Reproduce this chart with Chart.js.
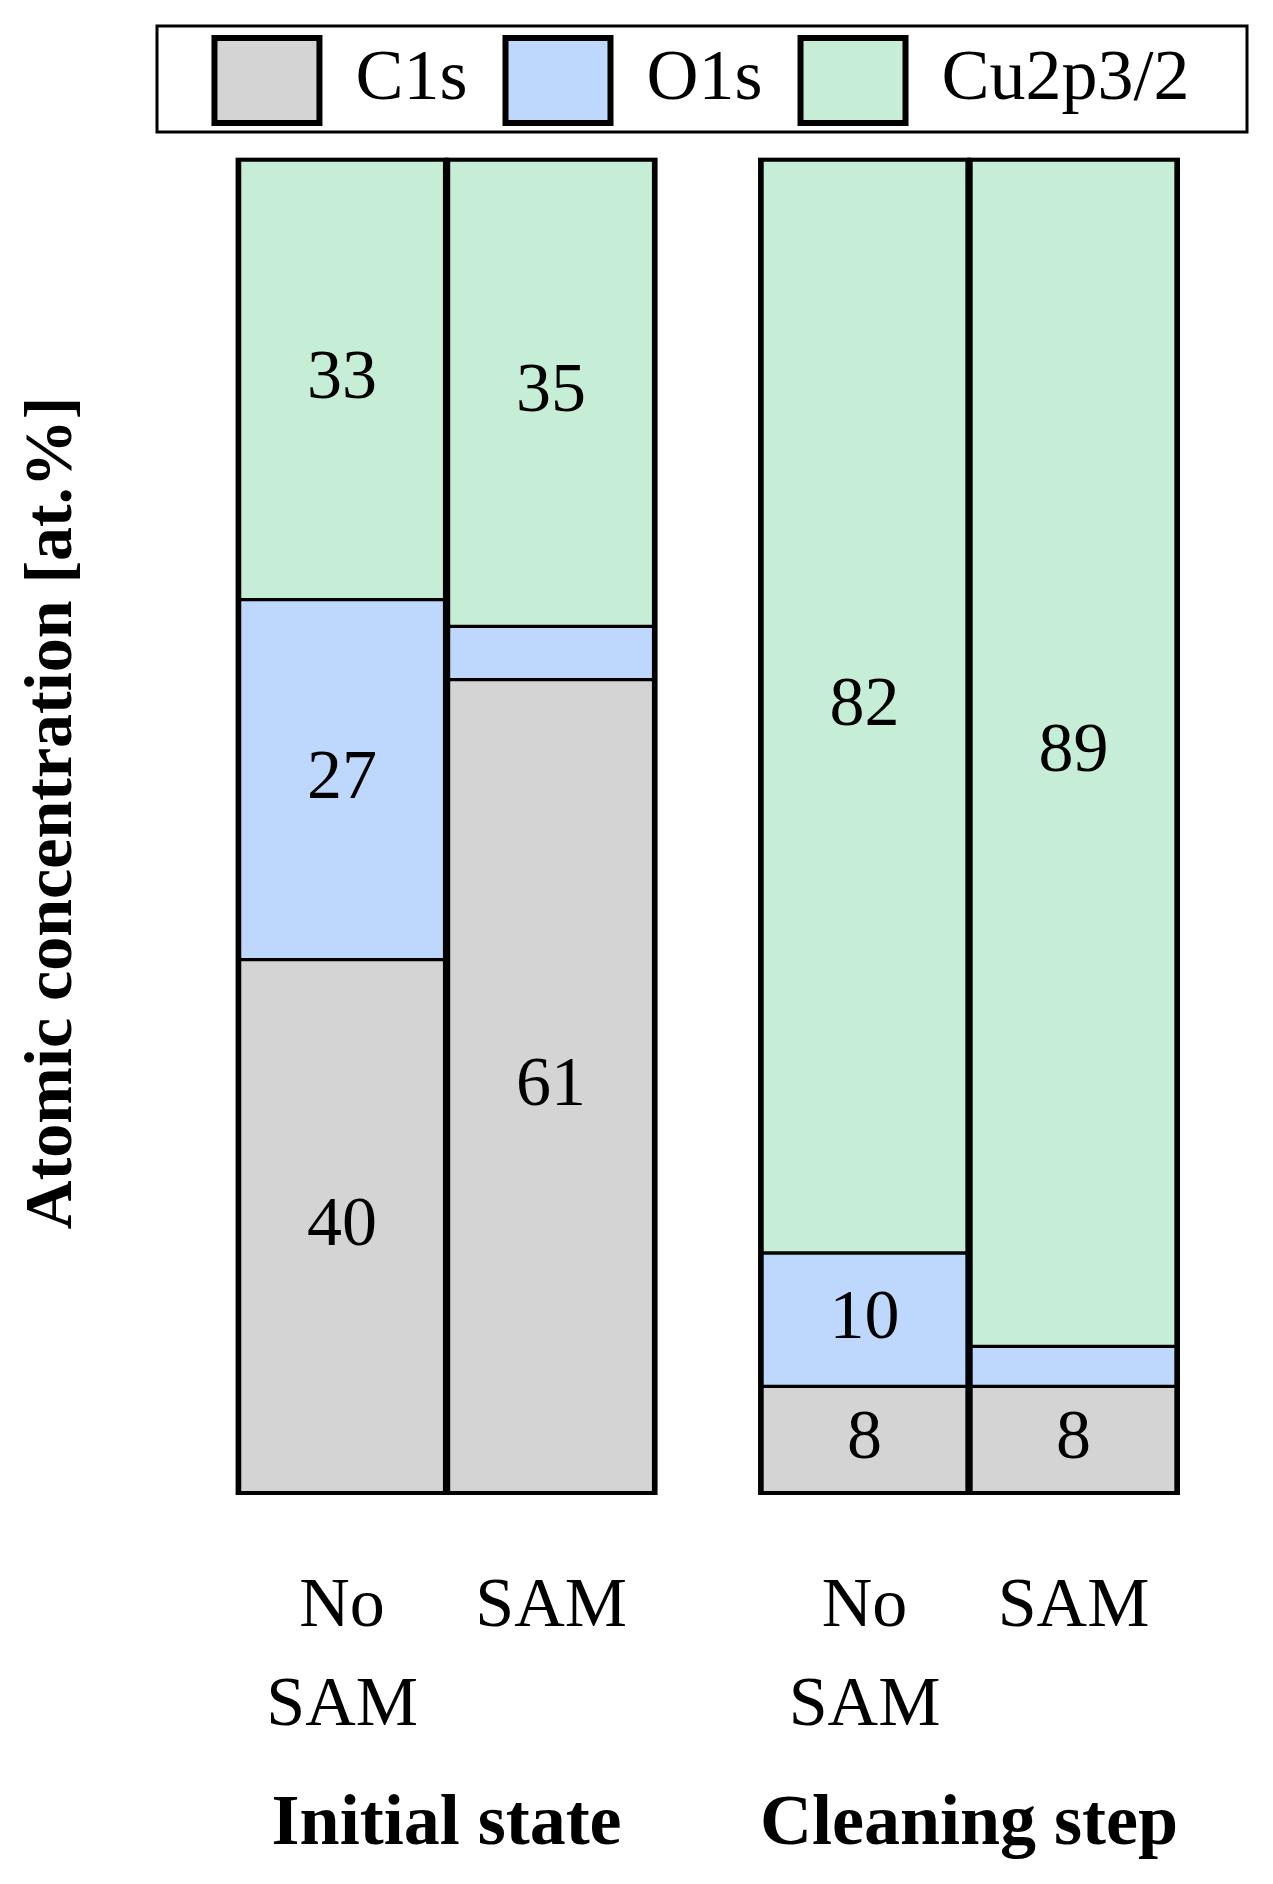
<!DOCTYPE html>
<html lang="en">
<head>
<meta charset="UTF-8">
<title>Atomic concentration</title>
<script src="https://cdn.jsdelivr.net/npm/chart.js@4.4.1/dist/chart.umd.min.js"></script>
<style>
    html, body { margin: 0; padding: 0; background: #fff; }
    #chart { display: block; }
</style>
</head>
<body>
<canvas id="chart" width="1273" height="1884"></canvas>
<script>
// Группы образцов и подписи под столбцами
const groups = ['Initial state', 'Cleaning step'];
const sampleLabels = [['No', 'SAM'], 'SAM'];

// Значения (at.%) для столбцов: No SAM, SAM, No SAM, SAM
const c1sValues = [40, 61, 8, 8];
const o1sValues = [27, 4, 10, 3];
const cuValues = [33, 35, 82, 89];

// Слои для легенды
const seriesNames = ['C1s', 'O1s', 'Cu2p3/2'];
const seriesColors = ['#d4d4d4', '#bdd7fd', '#c6eed6'];

const yTitle = 'Atomic concentration [at.%]';

// Промежуток между группами (в ширинах столбца)
const groupGap = 0.5;

// Считаем позиции столбцов по оси x
const positions = [];
const groupCenters = [];
groups.forEach((g, gi) => {
    const start = gi * (sampleLabels.length + groupGap);
    sampleLabels.forEach((s, si) => positions.push(start + si));
    groupCenters.push(start + (sampleLabels.length - 1) / 2);
});
const tickLabels = groups.flatMap(() => sampleLabels);
const xMin = positions[0] - 0.5;
const xMax = positions[positions.length - 1] + 0.5;

Chart.defaults.font.family = '"Liberation Serif", "Times New Roman", serif';
Chart.defaults.color = '#000';

function makeDataset(label, values, color) {
    return {
        label: label,
        data: values.map((v, i) => ({ x: positions[i], y: v })),
        backgroundColor: color,
        borderColor: '#000',
        borderWidth: { top: 2, bottom: 2, left: 4, right: 4 },
        borderSkipped: false,
        barPercentage: 1,
        categoryPercentage: 1
    };
}

// Числа внутри сегментов (маленькие слои без подписи)
const valueLabels = {
    id: 'valueLabels',
    afterDatasetsDraw(chart) {
        const ctx = chart.ctx;
        ctx.save();
        // толстый контур вокруг каждого столбца
        const first = chart.getDatasetMeta(0).data;
        const last = chart.getDatasetMeta(chart.data.datasets.length - 1).data;
        ctx.strokeStyle = '#000';
        ctx.lineWidth = 4;
        first.forEach((bar, i) => {
            const top = last[i].y;
            ctx.strokeRect(bar.x - bar.width / 2, top, bar.width, bar.base - top);
        });

        ctx.font = '70px "Liberation Serif"';
        ctx.fillStyle = '#000';
        ctx.textAlign = 'center';
        ctx.textBaseline = 'middle';
        chart.data.datasets.forEach((ds, di) => {
            chart.getDatasetMeta(di).data.forEach((bar, i) => {
                const v = ds.data[i].y;
                if (v < 5) return;
                ctx.fillText(String(v), bar.x, (bar.y + bar.base) / 2);
            });
        });
        ctx.restore();
    }
};

// Рамка вокруг легенды
const legendLeft = 157;
const legendRight = 1247;
const legendFrame = {
    id: 'legendFrame',
    afterLayout(chart) {
        chart.legend.left = legendLeft;
        chart.legend.right = legendRight;
    },
    afterDraw(chart) {
        const boxes = chart.legend.legendHitBoxes;
        if (!boxes || !boxes.length) return;
        const ctx = chart.ctx;
        const top = boxes[0].top - 12;
        const height = boxes[0].height + 21;
        ctx.save();
        ctx.strokeStyle = '#000';
        ctx.lineWidth = 3;
        ctx.strokeRect(legendLeft, top, legendRight - legendLeft, height);
        ctx.restore();
    }
};

const ctx = document.getElementById('chart').getContext('2d');

const chart = new Chart(ctx, {
    type: 'bar',
    data: {
        datasets: [
            makeDataset(seriesNames[0], c1sValues, seriesColors[0]),
            makeDataset(seriesNames[1], o1sValues, seriesColors[1]),
            makeDataset(seriesNames[2], cuValues, seriesColors[2])
        ]
    },
    options: {
        responsive: false,
        animation: false,
        devicePixelRatio: 1,
        events: [],
        layout: {
            padding: { top: 0, bottom: 0, left: 0, right: 95 }
        },
        scales: {
            x: {
                type: 'linear',
                stacked: true,
                min: xMin,
                max: xMax,
                offset: false,
                grid: { display: false, drawTicks: false },
                border: { display: false },
                afterBuildTicks: scale => {
                    scale.ticks = positions.map(v => ({ value: v }));
                },
                afterFit: scale => { scale.height = 260; },
                ticks: {
                    autoSkip: false,
                    maxRotation: 0,
                    padding: 65,
                    font: { size: 70, lineHeight: 1.414 },
                    callback: (v, i) => tickLabels[i]
                }
            },
            x2: {
                type: 'linear',
                position: 'bottom',
                weight: 1,
                min: xMin,
                max: xMax,
                offset: false,
                grid: { display: false, drawTicks: false },
                border: { display: false },
                afterBuildTicks: scale => {
                    scale.ticks = groupCenters.map(v => ({ value: v }));
                },
                afterFit: scale => { scale.height = 131; },
                ticks: {
                    autoSkip: false,
                    maxRotation: 0,
                    padding: 29,
                    font: { size: 72, weight: 'bold', lineHeight: 1.2 },
                    callback: (v, i) => groups[i]
                }
            },
            y: {
                stacked: true,
                min: 0,
                max: 102,
                ticks: { display: false },
                grid: { display: false, drawTicks: false },
                border: { display: false },
                title: {
                    display: true,
                    text: yTitle,
                    font: { size: 68, weight: 'bold', lineHeight: 1.2 },
                    padding: { top: 13, bottom: 143 }
                }
            }
        },
        plugins: {
            tooltip: { enabled: false },
            legend: {
                position: 'top',
                fullSize: true,
                labels: {
                    boxWidth: 105,
                    boxHeight: 85,
                    padding: 38,
                    font: { size: 72 },
                    generateLabels: chart => Chart.defaults.plugins.legend.labels.generateLabels(chart)
                        .map(item => Object.assign(item, { lineWidth: 6, strokeStyle: '#000' }))
                }
            }
        }
    },
    plugins: [valueLabels, legendFrame]
});
</script>
</body>
</html>
